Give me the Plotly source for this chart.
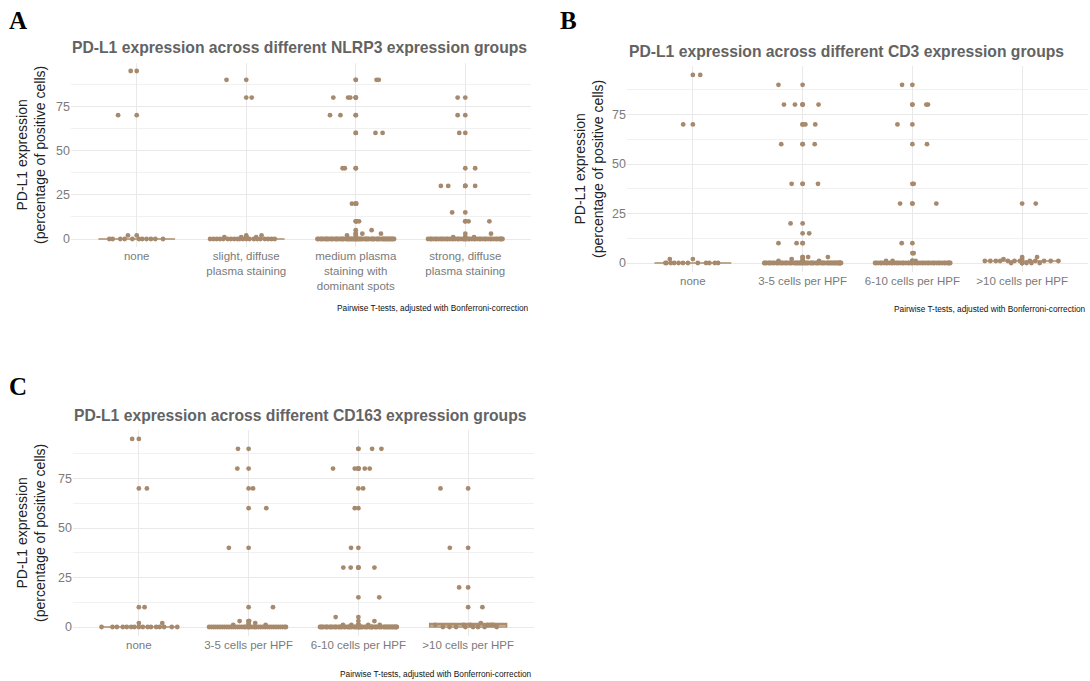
import plotly.graph_objects as go

# ---------------- data ----------------
# Panel A: NLRP3 groups
nlrp3_labels = ["none", "slight, diffuse<br>plasma staining",
                "medium plasma<br>staining with<br>dominant spots",
                "strong, diffuse<br>plasma staining"]

nlrp3_none = [95, 70, 2] + [0] * 11
nlrp3_none_jit = [-0.055, -0.17, -0.08,
                  -0.25, -0.22, -0.15, -0.11, -0.04, 0.02, 0.05, 0.09, 0.13, 0.17, 0.24]

nlrp3_slight = [90, 80, 2, 1, 1, 1] + [0] * 20
nlrp3_slight_jit = [-0.18, 0.05, 0.14, -0.2, -0.046, 0.09,
                    -0.33, -0.3, -0.27, -0.24, -0.21, -0.17, -0.14, -0.11, -0.08, -0.06,
                    -0.03, 0.0, 0.03, 0.07, 0.1, 0.13, 0.17, 0.2, 0.23, 0.26]

nlrp3_medium = [90, 90, 80, 80, 80, 70, 70, 60, 60, 40, 40, 20, 20, 10, 10,
                5, 3, 3, 2] + [0] * 62
nlrp3_medium_jit = [0.19, 0.21, -0.205, -0.07, -0.05, -0.235, -0.14, 0.18, 0.245,
                    -0.12, -0.10, -0.035, 0.005, 0.01, 0.03,
                    0.145, 0.06, 0.23, -0.08,
                    -0.35, -0.34, -0.32, -0.31, -0.3, -0.28, -0.27, -0.26, -0.25, -0.23,
                    -0.22, -0.21, -0.19, -0.18, -0.17, -0.16, -0.14, -0.13, -0.12, -0.11,
                    -0.09, -0.08, -0.07, -0.06, -0.05, -0.04, -0.03, -0.02, -0.01, 0.0,
                    0.0, 0.01, 0.02, 0.03, 0.04, 0.05, 0.06, 0.08, 0.09, 0.1,
                    0.11, 0.12, 0.14, 0.15, 0.16, 0.17, 0.19, 0.2, 0.21, 0.22,
                    0.24, 0.25, 0.26, 0.27, 0.28, 0.29, 0.3, 0.31, 0.32, 0.33,
                    0.34, 0.35]

nlrp3_strong = [80, 70, 60, 40, 30, 30, 30, 15, 10, 10, 3, 1, 1] + [0] * 44
nlrp3_strong_jit = [-0.07, -0.07, -0.055, 0.09, -0.223, -0.156, 0.09, -0.12, 0.03, 0.22,
                    0.235, -0.11, 0.08,
                    -0.34, -0.32, -0.31, -0.29, -0.27, -0.26, -0.24, -0.22, -0.21, -0.19,
                    -0.17, -0.16, -0.14, -0.12, -0.11, -0.09, -0.07, -0.06, -0.04, -0.02,
                    -0.01, 0.0, 0.01, 0.03, 0.04, 0.06, 0.08, 0.09, 0.11, 0.13,
                    0.14, 0.16, 0.18, 0.19, 0.21, 0.23, 0.24, 0.26, 0.28, 0.29,
                    0.31, 0.32, 0.33, 0.34]

# Panel B: CD3 groups
cd3_labels = ["none", "3-5 cells per HPF", "6-10 cells per HPF", ">10 cells per HPF"]

cd3_none = [95, 70, 2] + [0] * 12
cd3_none_jit = [0.067, -0.088, -0.21,
                -0.25, -0.24, -0.2, -0.17, -0.13, -0.09, -0.045, 0.045, 0.12, 0.15, 0.2, 0.23]

cd3_low = [90, 80, 80, 80, 70, 70, 60, 60, 40, 40, 20, 15, 10, 10, 3, 3, 2, 1, 1] + [0] * 62
cd3_low_jit = [-0.22, -0.17, -0.07, 0.145, 0.025, 0.115, -0.195, 0.11, -0.1, 0.14,
               -0.11, 0.06, -0.22, -0.055, 0.05, 0.23, -0.1, -0.22, 0.15,
               -0.35, -0.34, -0.33, -0.31, -0.3, -0.29, -0.27, -0.26, -0.24, -0.23,
               -0.22, -0.2, -0.19, -0.18, -0.16, -0.15, -0.14, -0.12, -0.11, -0.1,
               -0.08, -0.07, -0.06, -0.05, -0.04, -0.03, -0.02, -0.01, 0.0, 0.01,
               0.02, 0.03, 0.04, 0.05, 0.07, 0.08, 0.09, 0.1, 0.12, 0.13,
               0.14, 0.15, 0.17, 0.18, 0.19, 0.2, 0.22, 0.23, 0.24, 0.25,
               0.26, 0.27, 0.28, 0.29, 0.3, 0.31, 0.32, 0.33, 0.335, 0.34,
               0.345, 0.35]

cd3_mid = [90, 80, 80, 70, 60, 40, 30, 30, 10, 5, 1, 1, 1] + [0] * 44
cd3_mid_jit = [-0.094, 0.127, 0.142, -0.136, 0.133, 0.012, -0.112, 0.218, -0.097, 0.012,
               -0.24, -0.18, 0.03,
               -0.34, -0.33, -0.31, -0.29, -0.28, -0.26, -0.24, -0.23, -0.21, -0.19,
               -0.18, -0.16, -0.14, -0.13, -0.11, -0.09, -0.08, -0.06, -0.04, -0.03,
               -0.01, 0.0, 0.02, 0.04, 0.05, 0.07, 0.09, 0.1, 0.12, 0.14,
               0.15, 0.17, 0.19, 0.2, 0.22, 0.24, 0.25, 0.27, 0.29, 0.3,
               0.32, 0.33, 0.34, 0.345]

cd3_high = [30, 3, 2] + [1] * 12 + [0] * 4
cd3_high_jit = [0.124, 0.136, -0.17,
                -0.34, -0.29, -0.24, -0.2, -0.13, -0.07, -0.02, 0.07, 0.12, 0.2, 0.26, 0.33,
                -0.1, 0.04, 0.085, 0.16]

# Panel C: CD163 groups
cd163_labels = ["none", "3-5 cells per HPF", "6-10 cells per HPF", ">10 cells per HPF"]

cd163_none = [95, 70, 10, 2] + [0] * 16
cd163_none_jit = [-0.061, 0.073, 0.052, 0.213,
                  -0.34, -0.24, -0.2, -0.146, -0.11, -0.07, -0.04, 0.0, 0.036, 0.08,
                  0.11, 0.158, 0.19, 0.23, 0.3, 0.35]

cd163_low = [90, 80, 70, 60, 40, 10, 3, 3, 2, 1, 1] + [0] * 38
cd163_low_jit = [-0.097, -0.103, 0.04, 0.161, -0.18, 0.222, -0.082, 0.005, 0.06, -0.14, 0.155,
                 -0.36, -0.34, -0.32, -0.3, -0.28, -0.26, -0.24, -0.22, -0.2, -0.18,
                 -0.16, -0.14, -0.12, -0.1, -0.08, -0.06, -0.04, -0.03, -0.01, 0.0,
                 0.01, 0.03, 0.05, 0.07, 0.09, 0.11, 0.13, 0.15, 0.17, 0.19,
                 0.21, 0.23, 0.25, 0.27, 0.29, 0.31, 0.33, 0.34]

cd163_mid = [90, 90, 80, 80, 80, 80, 70, 60, 40, 30, 30, 30, 15, 5, 3, 1, 1, 1, 1] + [0] * 62
cd163_mid_jit = [0.125, 0.21, -0.231, -0.033, 0.058, 0.103, 0.043, -0.033, -0.067,
                 -0.137, -0.07, 0.146, 0.19, -0.207, 0.146, -0.14, -0.064, 0.09, 0.195,
                 -0.35, -0.34, -0.33, -0.32, -0.3, -0.29, -0.28, -0.26, -0.25, -0.24,
                 -0.22, -0.21, -0.2, -0.18, -0.17, -0.16, -0.15, -0.13, -0.12, -0.1,
                 -0.09, -0.08, -0.07, -0.06, -0.04, -0.03, -0.02, -0.01, 0.0, 0.01,
                 0.02, 0.03, 0.04, 0.06, 0.07, 0.08, 0.1, 0.11, 0.12, 0.13,
                 0.15, 0.16, 0.17, 0.19, 0.2, 0.21, 0.23, 0.24, 0.25, 0.26,
                 0.27, 0.28, 0.29, 0.3, 0.31, 0.32, 0.33, 0.34, 0.345, 0.35,
                 0.125, 0.005]

cd163_high = [70, 40, 20, 10, 2] + [1] * 6 + [0] * 8
cd163_high_jit = [-0.252, -0.167, -0.082, 0.13, 0.115,
                  -0.3, -0.04, 0.02, 0.18, 0.21, 0.23,
                  -0.23, -0.17, -0.11, -0.025, 0.045, 0.09, 0.15, 0.26]

caption_text = "Pairwise T-tests, adjusted with Bonferroni-correction"
y_title = "PD-L1 expression<br>(percentage of positive cells)"

# ---------------- styling ----------------
W, H = 1090, 681
POINT = "#a78a6d"
BOXLINE = "#ad8d6c"
GRID = "#e9e9e9"
GRID_MINOR = "#f1f1f1"
SANS = "Liberation Sans, Arial, sans-serif"
SERIF = "Liberation Serif, Times New Roman, serif"


def px(x):
    return x / W


def py(y):
    return 1 - y / H


panels = [
    dict(key="", title="PD-L1 expression across different NLRP3 expression groups",
         letter="A", labels=nlrp3_labels,
         groups=[(nlrp3_none, nlrp3_none_jit), (nlrp3_slight, nlrp3_slight_jit),
                 (nlrp3_medium, nlrp3_medium_jit), (nlrp3_strong, nlrp3_strong_jit)],
         xdom=(71, 531), ydom=(62.6, 247.4), title_pos=(70, 48), letter_pos=(18, 20),
         ytitle_pos=(31, 155), caption_pos=(531, 308)),
    dict(key="2", title="PD-L1 expression across different CD3 expression groups",
         letter="B", labels=cd3_labels,
         groups=[(cd3_none, cd3_none_jit), (cd3_low, cd3_low_jit),
                 (cd3_mid, cd3_mid_jit), (cd3_high, cd3_high_jit)],
         xdom=(627, 1088), ydom=(65.5, 272.4), title_pos=(627, 51), letter_pos=(568, 20),
         ytitle_pos=(589, 169), caption_pos=(1088, 309)),
    dict(key="3", title="PD-L1 expression across different CD163 expression groups",
         letter="C", labels=cd163_labels,
         groups=[(cd163_none, cd163_none_jit), (cd163_low, cd163_low_jit),
                 (cd163_mid, cd163_mid_jit), (cd163_high, cd163_high_jit)],
         xdom=(73, 534), ydom=(429.5, 636.4), title_pos=(72, 415), letter_pos=(18, 386),
         ytitle_pos=(31, 533), caption_pos=(534, 674)),
]

fig = go.Figure()
annotations = []
layout_axes = {}

for p in panels:
    xa, ya = "x" + p["key"], "y" + p["key"]
    all_vals = [v for g in p["groups"] for v in g[0]]
    lo, hi = min(all_vals), max(all_vals)
    pad = 0.05 * (hi - lo)

    for i, (vals, jit) in enumerate(p["groups"], start=1):
        # box with outliers drawn at the group centre
        fig.add_trace(go.Box(
            x=[i] * len(vals), y=vals, xaxis=xa, yaxis=ya,
            boxpoints="outliers", jitter=0, pointpos=0, width=0.7,
            whiskerwidth=0, fillcolor="rgba(255,255,255,0)",
            line=dict(color=BOXLINE, width=1.6),
            marker=dict(color=POINT, size=4.8, line=dict(width=0)),
            showlegend=False, hoverinfo="skip"))
        # jittered observations
        fig.add_trace(go.Scatter(
            x=[i + j for j in jit], y=vals, xaxis=xa, yaxis=ya,
            mode="markers", marker=dict(color=POINT, size=4.8, line=dict(width=0)),
            showlegend=False, hoverinfo="skip"))

    layout_axes["xaxis" + p["key"]] = dict(
        domain=[px(p["xdom"][0]), px(p["xdom"][1])], anchor=ya,
        range=[0.4, 4.6], tickmode="array", tickvals=[1, 2, 3, 4], ticktext=p["labels"],
        showgrid=True, gridcolor=GRID, gridwidth=1, zeroline=False, showline=False,
        ticks="", tickfont=dict(family=SANS, size=11.5, color="#7a7a7a"))
    layout_axes["yaxis" + p["key"]] = dict(
        domain=[py(p["ydom"][1]), py(p["ydom"][0])], anchor=xa,
        range=[lo - pad, hi + pad], tickmode="array", tickvals=[0, 25, 50, 75],
        showgrid=True, gridcolor=GRID, gridwidth=1, zeroline=False, showline=False,
        ticks="", tickfont=dict(family=SANS, size=12.5, color="#7a7a7a"),
        minor=dict(tickmode="array", tickvals=[12.5, 37.5, 62.5, 87.5], showgrid=True,
                   gridcolor=GRID_MINOR, gridwidth=1, ticks=""))

    annotations += [
        dict(text="<b>" + p["title"] + "</b>", x=px(p["title_pos"][0]), y=py(p["title_pos"][1]),
             xref="paper", yref="paper", xanchor="left", yanchor="middle", showarrow=False,
             font=dict(family=SANS, size=15.7, color="#636363")),
        dict(text="<b>" + p["letter"] + "</b>", x=px(p["letter_pos"][0]), y=py(p["letter_pos"][1]),
             xref="paper", yref="paper", xanchor="center", yanchor="middle", showarrow=False,
             font=dict(family=SERIF, size=25, color="#000000")),
        dict(text=y_title, x=px(p["ytitle_pos"][0]), y=py(p["ytitle_pos"][1]),
             xref="paper", yref="paper", xanchor="center", yanchor="middle", showarrow=False,
             textangle=-90, font=dict(family=SANS, size=14, color="#222222")),
        dict(text=caption_text, x=px(p["caption_pos"][0]), y=py(p["caption_pos"][1]),
             xref="paper", yref="paper", xanchor="right", yanchor="middle", showarrow=False,
             font=dict(family=SANS, size=8.3, color="#111111")),
    ]

fig.update_layout(
    width=W, height=H, margin=dict(l=0, r=0, t=0, b=0),
    paper_bgcolor="white", plot_bgcolor="white",
    annotations=annotations, **layout_axes)

fig.write_html("out.html")
